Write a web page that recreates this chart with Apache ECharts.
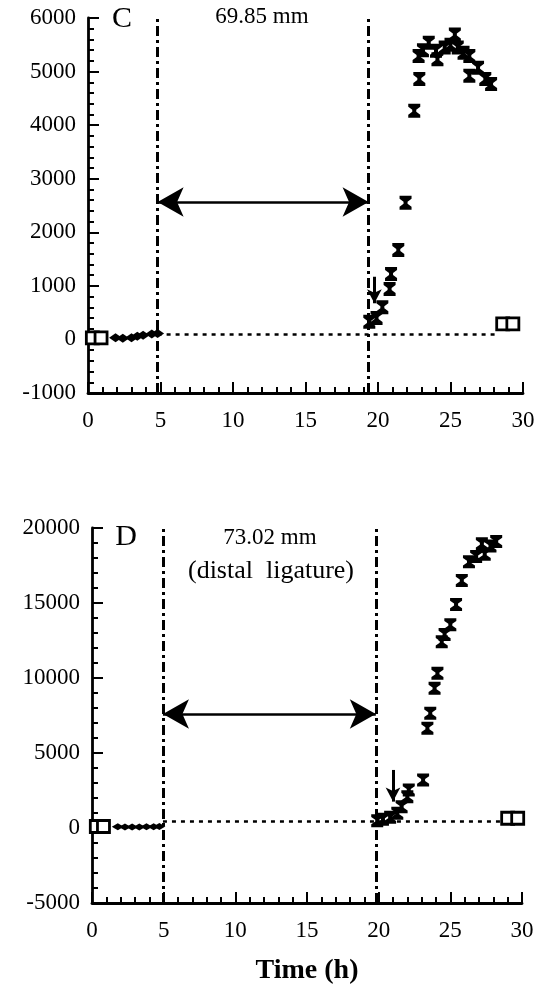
<!DOCTYPE html>
<html>
<head>
<meta charset="utf-8">
<script src="https://cdn.jsdelivr.net/npm/echarts@6/dist/echarts.min.js"></script>
<style>
html,body{margin:0;padding:0;background:#fff;}
#chart{width:549px;height:998px;}
</style>
</head>
<body>
<div id="chart"></div>
<script>
// ---------- data ----------
var xTicks = [0, 5, 10, 15, 20, 25, 30];
var cYTicks = [-1000, 0, 1000, 2000, 3000, 4000, 5000, 6000];
var dYTicks = [-5000, 0, 5000, 10000, 15000, 20000];

// Panel C (69.85 mm)
var cSquareX = [0.3, 0.9, 28.6, 29.3];
var cSquareY = [30, 30, 290, 290];
var cBaseX = [1.9, 2.4, 3.0, 3.4, 3.8, 4.4, 4.8];
var cBaseY = [30, 20, 30, 60, 80, 100, 110];
var cX = [19.4, 19.9, 20.3, 20.8, 20.9, 21.4, 21.9, 22.5, 22.85, 22.8, 23.1, 23.5, 24.0, 24.1, 24.6, 25.0, 25.3, 25.5, 25.9, 26.3, 26.3, 26.9, 27.4, 27.8];
var cY = [330, 400, 600, 940, 1220, 1670, 2550, 4270, 4860, 5290, 5400, 5540, 5390, 5230, 5450, 5500, 5690, 5450, 5350, 5290, 4920, 5070, 4860, 4770];
var cVLines = [4.8, 19.35];
var cArrowY = 2565;
var cBaseline = 100;
var cBaselineEnd = 28.3;
var cDropX = 19.75, cDropFrom = 1170, cDropTo = 675;

// Panel D (73.02 mm, distal ligature)
var dSquareX = [0.3, 0.8, 29.0, 29.7];
var dSquareY = [100, 100, 650, 650];
var dBaseX = [1.8, 2.3, 2.8, 3.3, 3.8, 4.3, 4.7];
var dBaseY = [80, 60, 60, 70, 80, 90, 100];
var dX = [19.9, 20.3, 20.8, 21.3, 21.6, 22.0, 22.1, 23.1, 23.4, 23.6, 23.9, 24.1, 24.4, 24.6, 25.0, 25.4, 25.8, 26.3, 26.8, 27.2, 27.4, 27.8, 28.2];
var dY = [490, 580, 710, 980, 1420, 2090, 2530, 3200, 6650, 7650, 9310, 10310, 12420, 12900, 13550, 14900, 16500, 17750, 18100, 18950, 18250, 18800, 19100];
var dVLines = [4.95, 19.8];
var dArrowY = 7600;
var dBaseline = 450;
var dBaselineEnd = 28.6;
var dDropX = 21.0, dDropFrom = 3870, dDropTo = 1760;

// ---------- helpers ----------
function zip(a, b) { return a.map(function (v, i) { return [v, b[i]]; }); }
var FONT = 'Liberation Serif';
var IBEAM = 'path://M0,0H12V3L8,6V8L12,11V14H0V11L4,8V6L0,3Z';
function plain(v) { return String(v); }

function xAxis(gi, name) {
  return {
    type: 'value', gridIndex: gi,
    min: xTicks[0], max: xTicks[xTicks.length - 1], interval: xTicks[1] - xTicks[0],
    axisLine: { onZero: false, lineStyle: { color: '#000', width: 2.8 } },
    axisTick: { inside: true, length: 11, lineStyle: { color: '#000', width: 2 } },
    minorTick: { show: true, splitNumber: 5, length: 6, lineStyle: { color: '#000', width: 2 } },
    splitLine: { show: false },
    axisLabel: { color: '#000', fontFamily: FONT, fontSize: 23, margin: 16, formatter: plain },
    name: name || '', nameLocation: 'middle', nameGap: 54,
    nameTextStyle: { color: '#000', fontFamily: FONT, fontSize: 28, fontWeight: 'bold' }
  };
}
function yAxis(gi, ticks) {
  return {
    type: 'value', gridIndex: gi,
    min: ticks[0], max: ticks[ticks.length - 1], interval: ticks[1] - ticks[0],
    axisLine: { onZero: false, lineStyle: { color: '#000', width: 2.8 } },
    axisTick: { inside: true, length: 11, lineStyle: { color: '#000', width: 2 } },
    minorTick: { show: true, splitNumber: 5, length: 6, lineStyle: { color: '#000', width: 2 } },
    splitLine: { show: false },
    axisLabel: { color: '#000', fontFamily: FONT, fontSize: 23, margin: 12, formatter: plain }
  };
}

function guides(vl, yMin, yMax, arrowY, base, baseEnd, dropX, dropFrom, dropTo) {
  var dashDot = { color: '#000', width: 3, type: [10, 4, 3, 4] };
  return {
    silent: true, animation: false,
    label: { show: false },
    symbol: 'none',
    data: [
      [{ coord: [vl[0], yMin], lineStyle: dashDot }, { coord: [vl[0], yMax] }],
      [{ coord: [vl[1], yMin], lineStyle: dashDot }, { coord: [vl[1], yMax] }],
      [{ coord: [vl[0], base], lineStyle: { color: '#000', width: 2.6, type: [4, 5] } }, { coord: [baseEnd, base] }],
      [{ coord: [vl[0], arrowY], symbol: 'arrow', symbolSize: [22, 26], lineStyle: { color: '#000', width: 2.6, type: 'solid' } },
       { coord: [vl[1], arrowY], symbol: 'arrow', symbolSize: [22, 26] }],
      [{ coord: [dropX, dropFrom], symbol: 'none', lineStyle: { color: '#000', width: 3, type: 'solid' } },
       { coord: [dropX, dropTo], symbol: 'arrow', symbolSize: [11, 14] }]
    ]
  };
}

var squareStyle = { color: '#fff', borderColor: '#000', borderWidth: 2.8, opacity: 1 };
var black = { color: '#000', opacity: 1 };

var option = {
  animation: false,
  backgroundColor: '#fff',
  grid: [
    { left: 88, top: 18, width: 435, height: 375 },
    { left: 92, top: 528, width: 430, height: 375 }
  ],
  xAxis: [xAxis(0), xAxis(1, 'Time (h)')],
  yAxis: [yAxis(0, cYTicks), yAxis(1, dYTicks)],
  series: [
    { type: 'scatter', xAxisIndex: 0, yAxisIndex: 0, data: zip(cBaseX, cBaseY),
      symbol: 'diamond', symbolSize: [13, 9], itemStyle: black,
      markLine: guides(cVLines, cYTicks[0], cYTicks[cYTicks.length - 1], cArrowY, cBaseline, cBaselineEnd, cDropX, cDropFrom, cDropTo) },
    { type: 'scatter', xAxisIndex: 0, yAxisIndex: 0, data: zip(cX, cY),
      symbol: IBEAM, symbolSize: [12, 14], itemStyle: black },
    { type: 'scatter', xAxisIndex: 0, yAxisIndex: 0, data: zip(cSquareX, cSquareY), z: 5,
      symbol: 'rect', symbolSize: 12, itemStyle: squareStyle },

    { type: 'scatter', xAxisIndex: 1, yAxisIndex: 1, data: zip(dBaseX, dBaseY),
      symbol: 'diamond', symbolSize: [12, 7], itemStyle: black,
      markLine: guides(dVLines, dYTicks[0], dYTicks[dYTicks.length - 1], dArrowY, dBaseline, dBaselineEnd, dDropX, dDropFrom, dDropTo) },
    { type: 'scatter', xAxisIndex: 1, yAxisIndex: 1, data: zip(dX, dY),
      symbol: IBEAM, symbolSize: [12, 13], itemStyle: black },
    { type: 'scatter', xAxisIndex: 1, yAxisIndex: 1, data: zip(dSquareX, dSquareY), z: 5,
      symbol: 'rect', symbolSize: 12, itemStyle: squareStyle }
  ],
  graphic: [
    { type: 'text', x: 122, y: 19, style: { text: 'C', font: '30px "Liberation Serif"', fill: '#000', align: 'center', verticalAlign: 'middle' } },
    { type: 'text', x: 262, y: 17, style: { text: '69.85 mm', font: '23px "Liberation Serif"', fill: '#000', align: 'center', verticalAlign: 'middle' } },
    { type: 'text', x: 126, y: 537, style: { text: 'D', font: '30px "Liberation Serif"', fill: '#000', align: 'center', verticalAlign: 'middle' } },
    { type: 'text', x: 270, y: 538, style: { text: '73.02 mm', font: '23px "Liberation Serif"', fill: '#000', align: 'center', verticalAlign: 'middle' } },
    { type: 'text', x: 271, y: 571, style: { text: '(distal  ligature)', font: '26px "Liberation Serif"', fill: '#000', align: 'center', verticalAlign: 'middle' } }
  ]
};

var chart = echarts.init(document.getElementById('chart'), null, { renderer: 'canvas' });
chart.setOption(option);
</script>
</body>
</html>
